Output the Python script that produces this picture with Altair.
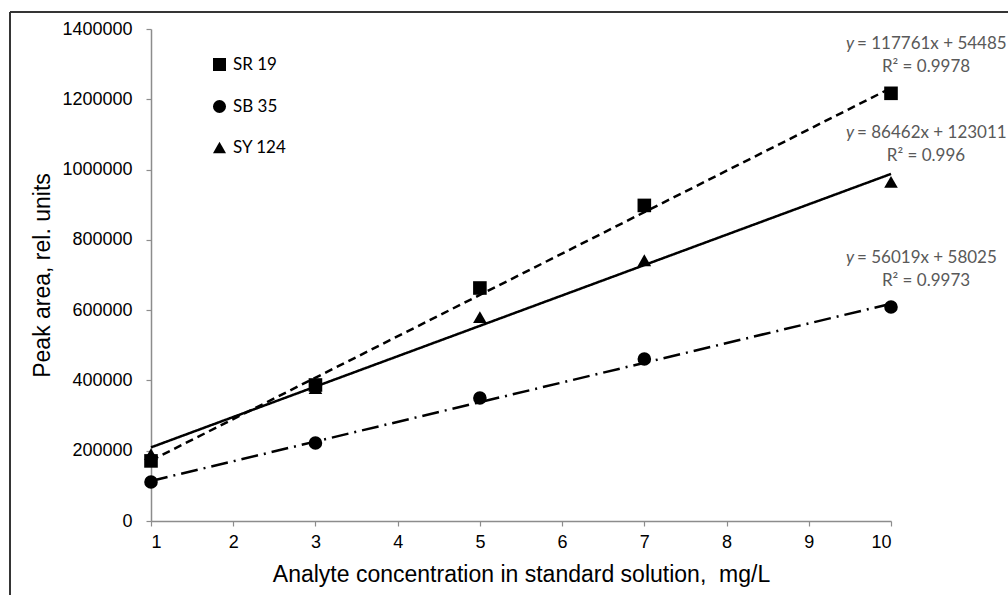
import altair as alt
import pandas as pd

# ---- data ----
series = ["SR 19", "SB 35", "SY 124"]
conc = [1, 3, 5, 7, 10]
sr19 = [171000, 387000, 663000, 898000, 1217000]
sb35 = [111000, 222000, 350000, 461000, 609000]
sy124 = [190000, 378000, 580000, 742000, 965000]

# trend-line equations printed on the chart
slopes = [117761, 56019, 86462]
intercepts = [54485, 58025, 123011]
eq_rest = ["= 117761x + 54485", "= 56019x + 58025", "= 86462x + 123011"]
r2_text = ["R² = 0.9978", "R² = 0.9973", "R² = 0.996"]

shapes = ["square", "circle", "triangle-up"]
dashes = [[8, 5], [17, 6, 2, 6], [1, 0]]

# ---- tables ----
pts = pd.DataFrame(
    [{"series": s, "x": c, "y": v}
     for s, vals in zip(series, [sr19, sb35, sy124])
     for c, v in zip(conc, vals)]
)
fit = pd.DataFrame(
    [{"series": s, "x": xx, "y": m * xx + b}
     for s, m, b in zip(series, slopes, intercepts)
     for xx in (conc[0], conc[-1])]
)
labels = pd.DataFrame(
    [{"series": s, "x": conc[-1], "y": vals[-1], "eq": e, "r2": r}
     for s, vals, e, r in zip(series, [sr19, sb35, sy124], eq_rest, r2_text)]
)

xscale = alt.Scale(domain=[1, 10], nice=False, zero=False)
yscale = alt.Scale(domain=[0, 1400000], nice=False)

axis_common = dict(
    domainColor="#8c8c8c", tickColor="#8c8c8c", tickSize=5, grid=False,
    labelFont="Liberation Sans", labelFontSize=18, labelColor="#000000",
    titleFont="Liberation Sans", titleFontSize=23, titleFontWeight="normal",
    titleColor="#000000", domainWidth=1.5, tickWidth=1.2,
)

X = alt.X("x:Q", scale=xscale,
          axis=alt.Axis(values=list(range(1, 11)),
                        title="Analyte concentration in standard solution,\u00a0 mg/L",
                        labelPadding=7, titlePadding=12, **axis_common))
Y = alt.Y("y:Q", scale=yscale,
          axis=alt.Axis(values=list(range(0, 1400001, 200000)), format="d",
                        title="Peak area, rel. units", labelPadding=14, titlePadding=7,
                        **axis_common))

line_layers = [
    alt.Chart(fit).transform_filter(alt.datum.series == s)
    .mark_line(color="black", strokeWidth=2.5, strokeDash=d)
    .encode(x=X, y=Y)
    for s, d in zip(series, dashes)
]

points = alt.Chart(pts).mark_point(filled=True, color="black", opacity=1, size=185).encode(
    x=X, y=Y,
    shape=alt.Shape("series:N", scale=alt.Scale(domain=series, range=shapes),
                    legend=alt.Legend(title=None, orient="none", legendX=60, legendY=27,
                                      labelFont="Lato", labelFontSize=17, labelColor="#000000",
                                      symbolSize=170, rowPadding=21, labelOffset=5)),
)

eq_y = alt.Chart(labels).mark_text(text="y", font="Lato", fontSize=17, fontStyle="italic",
                                   color="#595959", align="left", baseline="middle",
                                   dx=-45, dy=-49).encode(x=X, y=Y)
eq_rest_m = alt.Chart(labels).mark_text(font="Lato", fontSize=17, color="#595959",
                                        align="left", baseline="middle", dx=-34, dy=-49).encode(
    x=X, y=Y, text="eq:N")
r2_m = alt.Chart(labels).mark_text(font="Lato", fontSize=17, color="#595959",
                                   align="center", baseline="middle", dx=35, dy=-26).encode(
    x=X, y=Y, text="r2:N")

frame_top = alt.Chart(labels).mark_rule(color="#333333", strokeWidth=1.5).encode(
    x=alt.value(-141), x2=alt.value(870), y=alt.value(-17))
frame_left = alt.Chart(labels).mark_rule(color="#333333", strokeWidth=1.5).encode(
    x=alt.value(-141), y=alt.value(-17), y2=alt.value(580))

chart = alt.layer(frame_top, frame_left, *line_layers, points, eq_y, eq_rest_m, r2_m).properties(
    width=740, height=492,
    autosize=alt.AutoSizeParams(type="none"),
    padding={"left": 151, "top": 29, "right": 117, "bottom": 74},
).configure_view(stroke=None)

chart.save("out.html", embed_options={"renderer": "svg", "actions": False})
